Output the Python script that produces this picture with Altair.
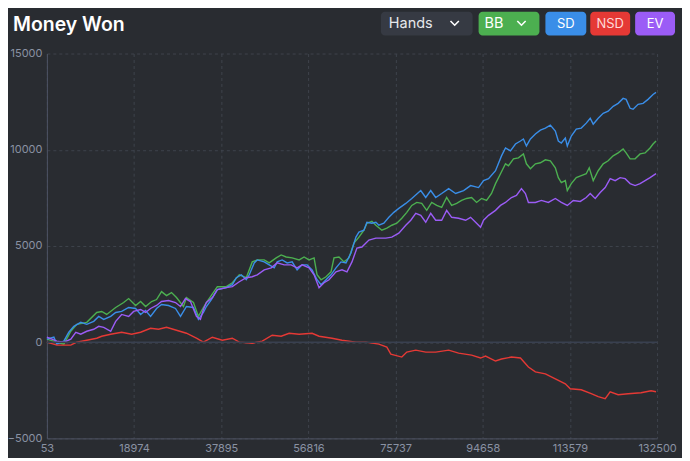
import altair as alt
import pandas as pd

# ---------------- data ----------------
bb_hands = [53, 2217, 3732, 5247, 6545, 8709, 10873, 11955, 13037, 14985, 16716, 17798, 19313, 20395, 21477,
            22775, 23857, 24939, 26021, 27103, 28185, 29700, 30349, 31864, 32946, 34027, 34676, 37057, 39005,
            40303, 41818, 43333, 44631, 45713, 47228, 48310, 49825, 50907, 51989, 53287, 54802, 55884, 56966,
            58048, 58697, 59563, 60645, 61727, 62376, 63458, 64540, 65622, 66704, 67786, 68868, 69517, 70599,
            71465, 72763, 73845, 74927, 76009, 77091, 78173, 79255, 80337, 81419, 82501, 83583, 84665, 85747,
            86829, 87911, 88993, 90075, 91157, 92239, 93321, 94403, 95485, 96567, 97433, 98515, 99597, 100246,
            101328, 102410, 103492, 104141, 105007, 106089, 107171, 108253, 109335, 110417, 111066, 111715,
            112581, 113014, 113879, 114961, 116043, 117125, 117775, 118640, 119722, 120804, 121886, 122968,
            124050, 125132, 125781, 126647, 127729, 128811, 129893, 130975, 131624, 132273]
bb_won = [155, 0, -103, 567, 927, 1030, 1545, 1597, 1442, 1803, 2060, 2266, 1906, 2112, 1854,
          2112, 2215, 2627, 2421, 2575, 2318, 1854, 2318, 2060, 1339, 1803, 2060, 2884, 2884,
          3090, 3502, 3348, 4172, 4275, 4275, 4120, 4378, 4532, 4429, 4378, 4275, 4429, 4275,
          4378, 3502, 3245, 3399, 3657, 4378, 4429, 4172, 4378, 5150, 5459, 5820, 6180, 6283,
          6077, 5820, 5923, 6077, 6180, 6438, 6747, 7107, 7262, 7210, 6850, 7262, 7107, 7004,
          7519, 7107, 7210, 7365, 7468, 7519, 7262, 7468, 7365, 7725, 8240, 8755, 9270, 9167,
          9528, 9579, 9785, 9270, 9013, 9270, 9322, 9476, 9425, 9064, 8549, 8292,
          8395, 7880, 8240, 8549, 8652, 8755, 9064, 8395, 8910, 9270, 9425, 9682,
          9837, 10043, 9837, 9528, 9528, 9785, 9837, 10094, 10300, 10455]

sd_hands = [53, 1568, 2217, 3732, 4814, 5896, 7411, 8709, 10224, 11306, 12388, 13903, 14985, 16283, 17798,
            19313, 20395, 21477, 22559, 23857, 24939, 26454, 27969, 29050, 30349, 31864, 32946, 34027, 34676,
            35759, 37057, 39005, 40303, 41169, 42251, 43333, 43982, 45064, 45713, 47228, 48310, 49392, 50041,
            51123, 52205, 53287, 54369, 55451, 56533, 57615, 58697, 59563, 60645, 61727, 62809, 63891, 64973,
            66055, 67137, 67786, 68868, 69517, 70599, 71465, 72114, 73196, 74278, 75360, 76442, 77957, 79255,
            81203, 82285, 83367, 84449, 85747, 87262, 88777, 90508, 92023, 93754, 94836, 95918, 97433, 98731,
            99597, 100679, 101761, 102843, 103492, 104141, 105007, 106089, 107171, 108253, 109335, 110417,
            111066, 111715, 112581, 113014, 113879, 114961, 116043, 117125, 117991, 118640, 119722, 120804,
            121886, 122968, 124050, 125132, 125781, 126647, 127296, 128378, 129460, 130542, 131624, 132273]
sd_won = [155, 258, -103, 52, 515, 824, 1030, 927, 1082, 1339, 1185, 1339, 1545, 1597, 1803,
          1751, 1442, 1648, 1339, 1751, 1957, 1906, 1751, 1339, 1854, 1803, 1185, 1545, 1854,
          2215, 2730, 2833, 2987, 3348, 3502, 3245, 3502, 4120, 4275, 4172, 4017, 3863, 4172,
          4275, 4120, 4172, 3760, 4017, 4017, 3760, 3245, 2987, 3245, 3502, 3863, 4172, 4120,
          4635, 5459, 5717, 5820, 6232, 6180, 6232, 6077, 6180, 6489, 6747, 6953, 7210, 7468,
          7880, 7519, 7880, 7519, 7725, 7983, 7725, 7880, 8137, 8034, 8395, 8498, 8910, 9682,
          10094, 9940, 10300, 10455, 10558, 10197, 10558, 10815, 11021, 11124, 11279, 10970,
          10455, 10352, 10609, 10197, 10712, 11073, 11124, 11382, 11639, 11330, 11639, 11897,
          12000, 12257, 12412, 12669, 12618, 12154, 12103, 12360, 12412, 12618, 12875, 12978]

nsd_hands = [53, 2217, 5247, 6545, 8709, 10873, 11955, 13903, 16283, 18447, 20395, 22559, 24290, 26021,
             28185, 30349, 32513, 34027, 35975, 38139, 40303, 41818, 44631, 46795, 48959, 50907, 52638,
             54802, 57615, 59130, 61943, 64107, 67137, 69301, 72114, 73845, 74711, 77091, 78173, 80121,
             82285, 84449, 87262, 89426, 92239, 94187, 95269, 97433, 98731, 100895, 102843, 104574,
             106089, 108253, 110417, 112581, 113663, 116043, 118207, 119722, 121237, 122319, 124050,
             126214, 129027, 131191, 132273]
nsd_won = [0, -155, -155, 0, 103, 206, 309, 412, 515, 412, 515, 721, 670, 773,
           618, 464, 206, 0, 258, 103, 206, 0, -52, 52, 361, 309, 464,
           412, 464, 309, 206, 103, 0, 0, -103, -258, -618, -773, -515, -412,
           -515, -515, -412, -567, -670, -824, -721, -979, -876, -773, -824, -1288,
           -1545, -1648, -1906, -2163, -2421, -2472, -2678, -2833, -2936, -2575, -2730,
           -2678, -2627, -2524, -2575]

ev_hands = [53, 2217, 3732, 5247, 6329, 7411, 8709, 10224, 11306, 12388, 13903, 14985, 16283, 17798, 18880,
            20395, 21477, 22559, 23857, 24939, 26454, 27969, 29050, 30132, 31214, 32513, 33378, 34027, 34676,
            35975, 37057, 39005, 40303, 41818, 43333, 44631, 45713, 47228, 48743, 50041, 51556, 53071, 54369,
            55451, 56966, 58048, 59130, 60212, 61294, 62809, 64107, 65189, 66271, 67353, 68435, 69950, 71465,
            73629, 74927, 76442, 77957, 79039, 80121, 81203, 82285, 83367, 84449, 85747, 86829, 87911, 89426,
            90941, 92023, 93105, 94187, 94836, 95918, 97433, 98515, 99597, 100895, 101977, 103059, 103925,
            104574, 106089, 107387, 108902, 110417, 111715, 113014, 114312, 115827, 117125, 117991, 119073,
            120155, 121237, 122319, 123401, 124483, 125565, 126647, 127729, 128811, 129893, 130975, 132273]
ev_won = [258, 52, 0, 155, 515, 412, 567, 670, 824, 773, 567, 1082, 1442, 1339, 1597,
          1700, 1545, 1751, 1906, 2112, 2163, 2060, 1854, 2266, 2112, 1339, 1185, 1700, 2060,
          2318, 2730, 2833, 2884, 3142, 3348, 3399, 3502, 3760, 3863, 4120, 4017, 4017, 3863,
          4017, 3863, 3502, 2833, 3090, 3245, 3657, 3760, 3657, 4172, 4893, 4944, 5305, 5408,
          5408, 5459, 5665, 6077, 6335, 6695, 6592, 6232, 6695, 6335, 6335, 6850, 6489, 6438,
          6335, 6489, 6232, 5974, 6335, 6592, 6850, 7107, 7262, 7519, 7622, 7983, 7725,
          7262, 7262, 7365, 7262, 7468, 7262, 7107, 7365, 7313, 7519, 7725, 7468,
          7777, 8034, 8498, 8395, 8549, 8498, 8240, 8137, 8240, 8395, 8549, 8755]

series_names = ["BB", "SD", "NSD", "EV"]
series_colors = ["#4caf50", "#3a8ee8", "#e53935", "#9b5cf6"]
x_ticks = [53, 18974, 37895, 56816, 75737, 94658, 113579, 132500]
y_ticks = [-5000, 0, 5000, 10000, 15000]
zero_level = [0]

rows = []
for name, hs, vs in [("BB", bb_hands, bb_won), ("SD", sd_hands, sd_won),
                     ("NSD", nsd_hands, nsd_won), ("EV", ev_hands, ev_won)]:
    for h, v in zip(hs, vs):
        rows.append({"hands": h, "won": v, "series": name})
df = pd.DataFrame(rows)

BG = "#292c31"
LABEL = "#8a92a3"
FONT = "Inter"
GRID = "#3e434c"
DOMAIN = "#4d5363"

xs = alt.Scale(domain=[53, 132500], nice=False, zero=False)
ys = alt.Scale(domain=[-5000, 15000], nice=False, zero=False)

x_axis = alt.Axis(
    values=x_ticks, format="d", title=None, labelColor=LABEL, labelFontSize=11, labelFont=FONT,
    labelFlush=False, labelPadding=4, ticks=False, domain=True, domainColor=DOMAIN, domainWidth=1,
    grid=True, gridColor=GRID, gridDash=[3, 3], labelOverlap=False)
y_axis = alt.Axis(
    values=y_ticks, format="d", title=None, labelColor=LABEL, labelFontSize=11, labelFont=FONT,
    labelPadding=5, ticks=False, domain=True, domainColor=DOMAIN, domainWidth=1,
    grid=True, gridColor=GRID, gridDash=[3, 3], labelFlush=False)

lines = alt.Chart(df).mark_line(strokeWidth=1.4).encode(
    x=alt.X("hands:Q", scale=xs, axis=x_axis),
    y=alt.Y("won:Q", scale=ys, axis=y_axis),
    color=alt.Color("series:N", scale=alt.Scale(domain=series_names, range=series_colors), legend=None),
    detail="series:N",
    order="hands:Q",
)

zero = alt.Chart(pd.DataFrame({"won": zero_level})).mark_rule(color="#394050", strokeWidth=1.5).encode(
    y=alt.Y("won:Q", scale=ys))

one = pd.DataFrame({"k": [0]})

title = alt.Chart(one).mark_text(text="Money Won", align="left", baseline="alphabetic", font=FONT,
                                 fontSize=19.5, fontWeight=600, color="#ffffff").encode(
    x=alt.value(-34), y=alt.value(-23))


def button(x0, x1, fill, label, text_color, chevron=False, text_x=None):
    r = alt.Chart(one).mark_rect(fill=fill, cornerRadius=4).encode(
        x=alt.value(x0), x2=alt.value(x1), y=alt.value(-42), y2=alt.value(-18))
    if text_x is None:
        t = alt.Chart(one).mark_text(text=label, align="center", baseline="middle", font=FONT,
                                     fontSize=13, color=text_color).encode(
            x=alt.value((x0 + x1) / 2), y=alt.value(-30))
    else:
        t = alt.Chart(one).mark_text(text=label, align="left", baseline="middle", font=FONT,
                                     fontSize=14.5, color=text_color).encode(
            x=alt.value(text_x), y=alt.value(-30))
    parts = [r, t]
    if chevron:
        c = alt.Chart(one).mark_point(shape="M-1,-0.5L0,0.5L1,-0.5", filled=False, stroke="#ffffff",
                                      strokeWidth=1.6, size=70, opacity=1).encode(
            x=alt.value(x1 - 18), y=alt.value(-30.5))
        parts.append(c)
    return parts


btns = []
btns += button(335, 427, "#363a43", "Hands", "#e6e8ec", chevron=True, text_x=343)
btns += button(433, 494, "#4caf50", "BB", "#ffffff", chevron=True, text_x=439)
btns += button(500, 541, "#3a8ee8", "SD", "#ffffff")
btns += button(545, 585, "#e53935", "NSD", "#ffd9d9")
btns += button(590, 630, "#9b5cf6", "EV", "#ffffff")

chart = alt.layer(lines, zero, title, *btns).properties(
    width=612, height=386,
    autosize=alt.AutoSizeParams(type="none"),
    padding={"left": 39, "top": 45, "right": 25, "bottom": 19},
    background=BG,
).configure_view(stroke=None)

chart.save("out.html", embed_options={"renderer": "svg", "actions": False})
